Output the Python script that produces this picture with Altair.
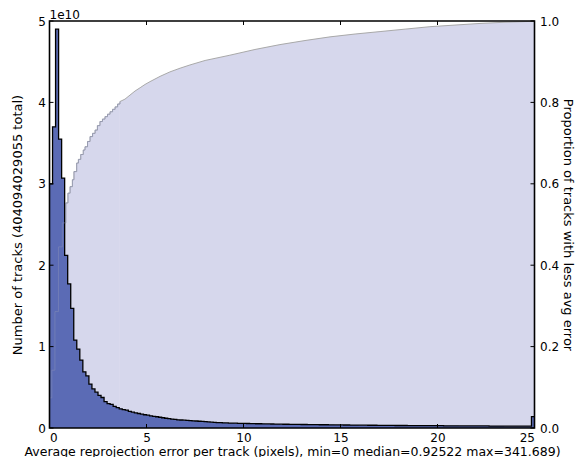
import altair as alt
import pandas as pd

# ---------------- data ----------------
BIN_W = 0.15625  # 160 bins over 0..25 (last bin holds the overflow)

# histogram counts, in units of 1e10 tracks
counts_head = [3.0, 3.7, 4.9, 3.55, 3.07, 2.12, 1.77, 1.47, 1.08, 0.97,
               0.835, 0.69, 0.64, 0.54, 0.48, 0.44, 0.40, 0.375, 0.325, 0.30,
               0.29, 0.265, 0.25, 0.235, 0.225, 0.22, 0.205, 0.195, 0.185, 0.178,
               0.17, 0.163, 0.157, 0.15, 0.143, 0.138, 0.132, 0.126, 0.12, 0.115,
               0.11, 0.105, 0.1, 0.098, 0.096, 0.093, 0.09, 0.088, 0.086, 0.083,
               0.081, 0.078, 0.075, 0.072, 0.07, 0.067]
counts_tail = [0.065, 0.064, 0.062, 0.061, 0.06, 0.059, 0.058, 0.057, 0.056, 0.055,
               0.054, 0.053, 0.052, 0.052, 0.051,
               0.05, 0.05, 0.049, 0.048, 0.048, 0.047, 0.046, 0.046, 0.045, 0.045,
               0.044, 0.044, 0.043, 0.043, 0.042,
               0.042, 0.041, 0.041, 0.04, 0.04, 0.04, 0.039, 0.039, 0.038, 0.038,
               0.038, 0.037, 0.037, 0.036, 0.036,
               0.036, 0.035, 0.035, 0.035, 0.034, 0.034, 0.034, 0.033, 0.033, 0.033,
               0.032, 0.032, 0.032, 0.031, 0.031,
               0.031, 0.031, 0.03, 0.03, 0.03, 0.03, 0.029, 0.029, 0.029, 0.029,
               0.028, 0.028, 0.028, 0.028, 0.027,
               0.027, 0.027, 0.027, 0.027, 0.026, 0.026, 0.026, 0.026, 0.026, 0.025,
               0.025, 0.025, 0.025, 0.025, 0.024,
               0.024, 0.024, 0.024, 0.024, 0.023, 0.023, 0.023, 0.023, 0.023, 0.023,
               0.022, 0.022, 0.022,
               0.14]

# cumulative proportion (right axis): stepped head, smooth tail
cum_head_x = [0.0, 0.12, 0.28, 0.46, 0.66, 0.84, 0.95, 1.06, 1.18, 1.26,
              1.40, 1.49, 1.61, 1.74, 1.83, 1.96, 2.09, 2.22, 2.35, 2.47,
              2.60, 2.73, 2.86, 2.99, 3.12, 3.25, 3.38, 3.51, 3.63]
cum_head_p = [0.074, 0.142, 0.286, 0.445, 0.504, 0.553, 0.577, 0.593, 0.61, 0.63,
              0.651, 0.66, 0.672, 0.683, 0.691, 0.704, 0.716, 0.724, 0.732, 0.743,
              0.753, 0.759, 0.765, 0.771, 0.777, 0.783, 0.789, 0.796, 0.802]
cum_tail_x = [3.63, 3.89, 4.15, 4.41, 4.67, 4.92, 5.18, 5.70, 6.21, 6.73,
              7.24, 8.02, 9.30, 10.59, 11.88, 13.17, 14.46, 15.75, 17.04, 18.33,
              19.61, 20.90, 22.19, 23.48, 24.77, 25.0]
cum_tail_p = [0.802, 0.808, 0.818, 0.828, 0.836, 0.844, 0.851, 0.864, 0.875, 0.884,
              0.892, 0.903, 0.916, 0.93, 0.942, 0.952, 0.961, 0.968, 0.974, 0.98,
              0.986, 0.99, 0.994, 0.997, 0.999, 1.0]

x_ticks = [0, 5, 10, 15, 20, 25]
left_ticks = [0, 1e10, 2e10, 3e10, 4e10, 5e10]
right_ticks = [0.0, 0.2, 0.4, 0.6, 0.8, 1.0]

X_TITLE = "Average reprojection error per track (pixels), min=0 median=0.92522 max=341.689)"
YL_TITLE = "Number of tracks (404094029055 total)"
YR_TITLE = "Proportion of tracks with less avg error"
OFFSET_LABEL = "1e10"

BLUE = "#5b6bb5"
LAVENDER = "#d6d7ec"
FONT = "DejaVu Sans"

# ---------------- tables ----------------
counts = counts_head + counts_tail
edges = [i * BIN_W for i in range(len(counts))] + [25.0]
hist = pd.DataFrame({"x": edges, "n": [c * 1e10 for c in counts] + [counts[-1] * 1e10]})
cum_head = pd.DataFrame({"x": cum_head_x, "p": cum_head_p})
cum_tail = pd.DataFrame({"x": cum_tail_x, "p": cum_tail_p})
tick_df = pd.DataFrame({"x": x_ticks})

xscale = alt.Scale(domain=[0, 25], nice=False, zero=False)
yl_scale = alt.Scale(domain=[0, 5e10], nice=False)
yr_scale = alt.Scale(domain=[0, 1], nice=False)

x_axis = alt.Axis(orient="bottom", values=x_ticks, format="d", tickSize=0, domain=False,
                  grid=False, labelPadding=4, title=X_TITLE, titlePadding=2,
                  titleFontSize=12.5)
yl_axis = alt.Axis(orient="left", values=left_ticks, labelExpr="format(datum.value/1e10,'d')",
                   tickSize=0, domain=False, grid=False, labelPadding=4,
                   title=YL_TITLE, titlePadding=13, titleFontSize=13)
yr_axis = alt.Axis(orient="right", values=right_ticks, format=".1f", tickSize=0,
                   domain=False, grid=False, labelPadding=5, title=YR_TITLE, titlePadding=2,
                   titleFontSize=13)

X = alt.X("x:Q", scale=xscale, axis=x_axis)

cum_head_area = alt.Chart(cum_head).mark_area(interpolate="step-after", color=LAVENDER).encode(
    x=X, y=alt.Y("p:Q", scale=yr_scale, axis=yr_axis))
cum_tail_area = alt.Chart(cum_tail).mark_area(interpolate="linear", color=LAVENDER).encode(
    x=X, y=alt.Y("p:Q", scale=yr_scale, axis=None))
cum_head_line = alt.Chart(cum_head).mark_line(interpolate="step-after", color="#a9a9a9", strokeWidth=1).encode(
    x=X, y=alt.Y("p:Q", scale=yr_scale, axis=None))
cum_tail_line = alt.Chart(cum_tail).mark_line(interpolate="linear", color="#a9a9a9", strokeWidth=1).encode(
    x=X, y=alt.Y("p:Q", scale=yr_scale, axis=None))

hist_area = alt.Chart(hist).mark_area(interpolate="step-after", color=BLUE).encode(
    x=X, y=alt.Y("n:Q", scale=yl_scale, axis=yl_axis))
hist_line = alt.Chart(hist).mark_line(interpolate="step-after", color="black", strokeWidth=1.3).encode(
    x=X, y=alt.Y("n:Q", scale=yl_scale, axis=None))

cum_head_over = alt.Chart(cum_head).mark_line(interpolate="step-after", color="#8890b8", strokeWidth=1, opacity=0.5).encode(
    x=X, y=alt.Y("p:Q", scale=yr_scale, axis=None))

# inward ticks on all four spines, placed through the scales
tick_x_bottom = alt.Chart(tick_df).mark_rule(color="black", strokeWidth=1).encode(
    x=X, y=alt.value(403), y2=alt.value(407))
tick_x_top = alt.Chart(tick_df).mark_rule(color="black", strokeWidth=1).encode(
    x=X, y=alt.value(0), y2=alt.value(4))
tick_yl = alt.Chart(pd.DataFrame({"n": left_ticks})).mark_rule(color="black", strokeWidth=1).encode(
    y=alt.Y("n:Q", scale=yl_scale, axis=None), x=alt.value(0), x2=alt.value(4))
tick_yr = alt.Chart(pd.DataFrame({"p": right_ticks})).mark_rule(color="black", strokeWidth=1).encode(
    y=alt.Y("p:Q", scale=yr_scale, axis=None), x=alt.value(481), x2=alt.value(485))

frame = alt.Chart(pd.DataFrame({"a": [0]})).mark_rect(filled=False, stroke="black", strokeWidth=1.6).encode(
    x=alt.value(0), x2=alt.value(485), y=alt.value(0), y2=alt.value(407))

offset_text = alt.Chart(pd.DataFrame({"t": [OFFSET_LABEL]})).mark_text(
    align="left", baseline="alphabetic", font=FONT, fontSize=12, color="black").encode(
    text="t:N", x=alt.value(0), y=alt.value(-2))

chart = alt.layer(
    cum_head_area, cum_tail_area, cum_head_line, cum_tail_line,
    hist_area, hist_line, cum_head_over,
    tick_x_bottom, tick_x_top, tick_yl, tick_yr, frame, offset_text
).resolve_scale(y="independent").properties(
    width=485, height=407,
    autosize=alt.AutoSizeParams(type="none"),
    padding={"left": 41.5, "right": 41.5, "top": 13, "bottom": 29},
).configure_axis(
    labelFont=FONT, titleFont=FONT, labelFontSize=12, titleFontSize=12,
    titleFontWeight="normal", labelColor="black", titleColor="black"
).configure_view(stroke="transparent")

chart.save("out.html", embed_options={"renderer": "svg", "actions": False})
